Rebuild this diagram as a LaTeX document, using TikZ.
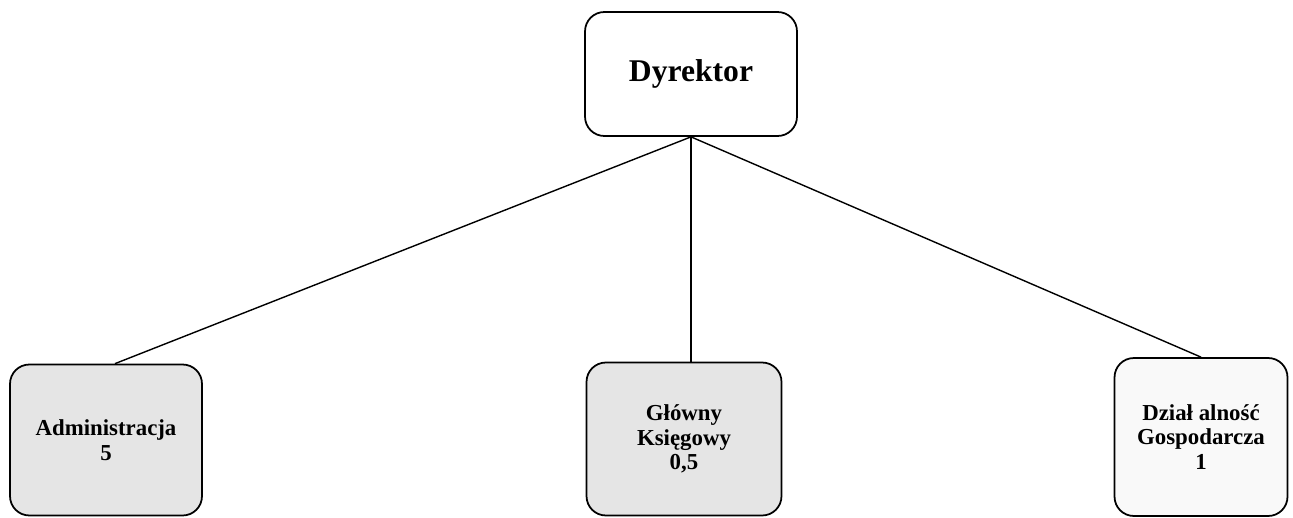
\documentclass[tikz,border=0pt]{standalone}
\usepackage{fontspec}
\setmainfont{Liberation Serif}
\usepackage{tikz}

\tikzset{
    unit/.style={draw=black, line width=1pt, rounded corners=11pt, align=center,
        font=\fontsize{13}{14}\selectfont\bfseries, inner sep=0pt},
    link/.style={black, line width=0.8pt}
}

\begin{document}
\begin{tikzpicture}[x=0.02cm, y=-0.02cm]
        \useasboundingbox (0,0) rectangle (1293,517);
        % top
        \node[unit, fill=white, minimum width=4.24cm, minimum height=2.48cm,
            font=\fontsize{18}{20}\selectfont\bfseries] (dyr) at (691,74) {Dyrektor};
        % bottom row
        \node[unit, fill=gray!20, minimum width=3.84cm, minimum height=3.02cm] (adm) at (106,440) {Administracja\\5};
        \node[unit, fill=gray!20, minimum width=3.90cm, minimum height=3.06cm] (ksi) at (684,439) {Główny\\Księgowy\\0,5};
        \node[unit, fill=gray!5, minimum width=3.46cm, minimum height=3.16cm] (gos) at (1201,437) {Dział alność\\Gospodarcza\\1};

        \draw[link] (dyr.south) -- ([xshift=0.18cm]adm.north);
        \draw[link] (dyr.south) -- (dyr.south |- ksi.north);
        \draw[link] (dyr.south) -- (gos.north);
\end{tikzpicture}
\end{document}
